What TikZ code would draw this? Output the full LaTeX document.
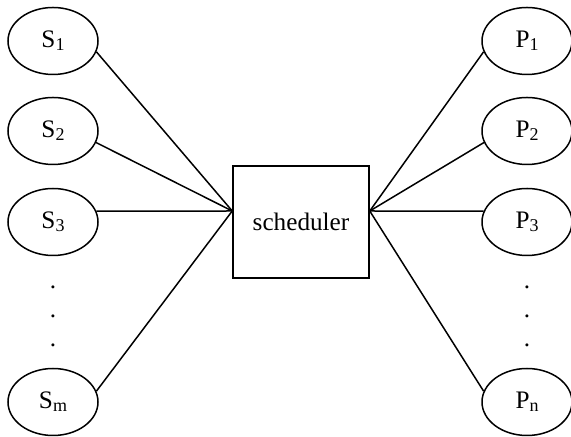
\documentclass[tikz,border=0pt]{standalone}
\usepackage{fontspec}
\setmainfont{Liberation Serif}
\usetikzlibrary{shapes,positioning,calc}
\newcommand{\lsub}[1]{\raisebox{-0.25ex}{\fontsize{9}{9}\selectfont #1}}

\begin{document}
\begin{tikzpicture}[x=0.5pt, y=0.5pt, line width=0.75pt,
    every node/.style={font=\fontsize{12.6}{15}\selectfont},
    ell/.style={draw, ellipse, minimum width=45pt, minimum height=33.5pt, inner sep=0pt},
    sched/.style={draw, rectangle, minimum width=68pt, minimum height=56pt}]
    \useasboundingbox (0,0) rectangle (571,437);

    % Scheduler
    \node[sched] (sch) at (301,215) {scheduler};
    \coordinate (lin) at ($(sch.west)+(0,11)$);
    \coordinate (rin) at ($(sch.east)+(0,11)$);

    % Sources
    \node[ell] (s1) at (53,396) {S\lsub{1}};
    \node[ell] (s2) at (53,306) {S\lsub{2}};
    \node[ell] (s3) at (53,215) {S\lsub{3}};
    \node[ell] (sm) at (53,35) {S\lsub{m}};

    % Processors
    \node[ell] (p1) at (527,396) {P\lsub{1}};
    \node[ell] (p2) at (527,306) {P\lsub{2}};
    \node[ell] (p3) at (527,215) {P\lsub{3}};
    \node[ell] (pn) at (527,35) {P\lsub{n}};

    % Dots
    \foreach \i/\y in {1/150, 2/121, 3/92} {
        \node[inner sep=0pt] (ld\i) at (53,\y) {.};
        \node[inner sep=0pt] (rd\i) at (527,\y) {.};
    }

    % Links
    \foreach \n/\a in {s1/-14, s2/-15, s3/14, sm/14}
        \draw (\n.\a) -- (lin);
    \foreach \n/\a in {p1/194, p2/195, p3/166, pn/166}
        \draw (\n.\a) -- (rin);
\end{tikzpicture}
\end{document}
